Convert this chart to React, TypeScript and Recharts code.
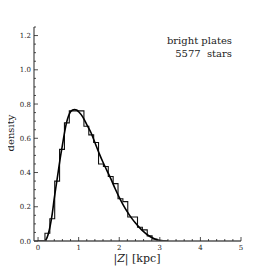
import React from "react";
import { ComposedChart, Line, XAxis, YAxis } from "recharts";

const binEdges = [0.17, 0.29, 0.41, 0.53, 0.65, 0.77, 0.89, 1.01, 1.13, 1.25, 1.37, 1.49, 1.61, 1.73, 1.85, 1.97, 2.09, 2.21, 2.33, 2.45, 2.57, 2.69, 2.81, 2.93, 3.05];
const binDensity = [0.045, 0.13, 0.35, 0.535, 0.69, 0.76, 0.76, 0.76, 0.67, 0.62, 0.575, 0.45, 0.435, 0.377, 0.335, 0.247, 0.23, 0.14, 0.14, 0.08, 0.065, 0.03, 0.012, 0.004, 0];

const curveZ = [0.0, 0.15, 0.2, 0.25, 0.3, 0.35, 0.4, 0.45, 0.5, 0.55, 0.6, 0.65, 0.7, 0.75, 0.8, 0.85, 0.9, 0.95, 1.0, 1.1, 1.2, 1.3, 1.4, 1.5, 1.6, 1.7, 1.8, 1.9, 2.0, 2.1, 2.2, 2.3, 2.4, 2.5, 2.6, 2.7, 2.8, 2.9, 3.0, 3.1, 3.2];
const curveDensity = [0, 0, 0.01, 0.04, 0.09, 0.16, 0.25, 0.33, 0.41, 0.49, 0.56, 0.63, 0.69, 0.73, 0.755, 0.765, 0.768, 0.765, 0.755, 0.725, 0.68, 0.635, 0.575, 0.515, 0.46, 0.41, 0.36, 0.305, 0.255, 0.21, 0.17, 0.135, 0.105, 0.078, 0.055, 0.035, 0.02, 0.009, 0.003, 0.001, 0];

const xTicks = [0, 0.2, 0.4, 0.6, 0.8, 1, 1.2, 1.4, 1.6, 1.8, 2, 2.2, 2.4, 2.6, 2.8, 3, 3.2, 3.4, 3.6, 3.8, 4, 4.2, 4.4, 4.6, 4.8, 5];
const yTicks = [0, 0.05, 0.1, 0.15, 0.2, 0.25, 0.3, 0.35, 0.4, 0.45, 0.5, 0.55, 0.6, 0.65, 0.7, 0.75, 0.8, 0.85, 0.9, 0.95, 1.0, 1.05, 1.1, 1.15, 1.2, 1.25];

const histData = [
  { x: 0, y: 0 },
  ...binEdges.map((x, i) => ({ x, y: binDensity[i] })),
];
const curveData = curveZ.map((x, i) => ({ x, y: curveDensity[i] }));

const FONT = "DejaVu Serif, Liberation Serif, Times New Roman, serif";
const TXT = "#222";
const AX = "#555";

const isMajorX = (v: number) => Math.abs(v - Math.round(v)) < 1e-6;
const isMajorY = (v: number) => Math.abs(v * 5 - Math.round(v * 5)) < 1e-6;

const XTick = (props: any) => {
  const { x, y, payload, side } = props;
  const v = payload.value;
  const major = isMajorX(v);
  const len = major ? 4 : 2;
  const dir = side === "bottom" ? -1 : 1;
  return (
    <g>
      <line x1={x} y1={y} x2={x} y2={y + dir * len} stroke="#222" strokeWidth={0.8} />
      {side === "bottom" && major ? (
        <text x={x} y={y + 8.5} textAnchor="middle" fontSize={7} fontFamily={FONT} fill={TXT}>
          {String(Math.round(v))}
        </text>
      ) : null}
    </g>
  );
};

const YTick = (props: any) => {
  const { x, y, payload, side } = props;
  const v = payload.value;
  const major = isMajorY(v);
  const len = major ? 4 : 2;
  const dir = side === "left" ? 1 : -1;
  return (
    <g>
      <line x1={x} y1={y} x2={x + dir * len} y2={y} stroke="#222" strokeWidth={0.8} />
      {side === "left" && major ? (
        <text x={x - 3} y={y + 2.5} textAnchor="end" fontSize={7} fontFamily={FONT} fill={TXT}>
          {v.toFixed(1)}
        </text>
      ) : null}
    </g>
  );
};

export default function App() {
  return (
    <div style={{ position: "relative", width: 260, height: 260 }}>
      <ComposedChart width={260} height={260} margin={{ top: 19, right: 27, bottom: 0, left: 0 }}>
        <XAxis
          xAxisId="b"
          type="number"
          dataKey="x"
          domain={[-0.1, 5]}
          ticks={xTicks}
          interval={0}
          height={27}
          tickSize={0}
          tickMargin={0}
          tickLine={false}
          axisLine={{ stroke: AX, strokeWidth: 1.3 }}
          tick={(p: any) => <XTick {...p} side="bottom" />}
          allowDataOverflow
        />
        <XAxis
          xAxisId="t"
          orientation="top"
          type="number"
          dataKey="x"
          domain={[-0.1, 5]}
          ticks={xTicks}
          interval={0}
          height={0}
          tickSize={0}
          tickMargin={0}
          tickLine={false}
          axisLine={{ stroke: AX, strokeWidth: 1.3 }}
          tick={(p: any) => <XTick {...p} side="top" />}
          allowDataOverflow
        />
        <YAxis
          yAxisId="l"
          type="number"
          domain={[0, 1.25]}
          ticks={yTicks}
          interval={0}
          width={26}
          tickSize={0}
          tickMargin={0}
          tickLine={false}
          axisLine={{ stroke: AX, strokeWidth: 1.3 }}
          tick={(p: any) => <YTick {...p} side="left" />}
          allowDataOverflow
        />
        <YAxis
          yAxisId="r"
          orientation="right"
          type="number"
          domain={[0, 1.25]}
          ticks={yTicks}
          interval={0}
          width={0}
          tickSize={0}
          tickMargin={0}
          tickLine={false}
          axisLine={{ stroke: AX, strokeWidth: 1.3 }}
          tick={(p: any) => <YTick {...p} side="right" />}
          allowDataOverflow
        />
        <Line
          xAxisId="b"
          yAxisId="l"
          data={histData}
          dataKey="y"
          type="stepAfter"
          stroke="#111"
          strokeWidth={1.1}
          dot={false}
          isAnimationActive={false}
        />
        <Line
          xAxisId="b"
          yAxisId="l"
          data={curveData}
          dataKey="y"
          type="monotone"
          stroke="#000"
          strokeWidth={1.6}
          dot={false}
          isAnimationActive={false}
        />
      </ComposedChart>
      <div
        style={{
          position: "absolute",
          right: 36,
          top: 27,
          fontFamily: FONT,
          fontSize: 10,
          color: TXT,
          textAlign: "right",
          lineHeight: "12.5px",
          whiteSpace: "pre",
        }}
      >
        {"bright plates\n5577  stars"}
      </div>
      <div
        style={{
          position: "absolute",
          left: 3 - 30,
          top: 126 - 8,
          width: 60,
          height: 14,
          fontFamily: FONT,
          fontSize: 10,
          color: TXT,
          textAlign: "center",
          lineHeight: "14px",
          transform: "rotate(-90deg)",
        }}
      >
        density
      </div>
      <div
        style={{
          position: "absolute",
          left: 129 - 40,
          top: 244,
          width: 80,
          fontFamily: FONT,
          fontSize: 11,
          color: TXT,
          textAlign: "center",
          lineHeight: "14px",
          whiteSpace: "pre",
        }}
      >
        |<i>Z</i>| [kpc]
      </div>
    </div>
  );
}
